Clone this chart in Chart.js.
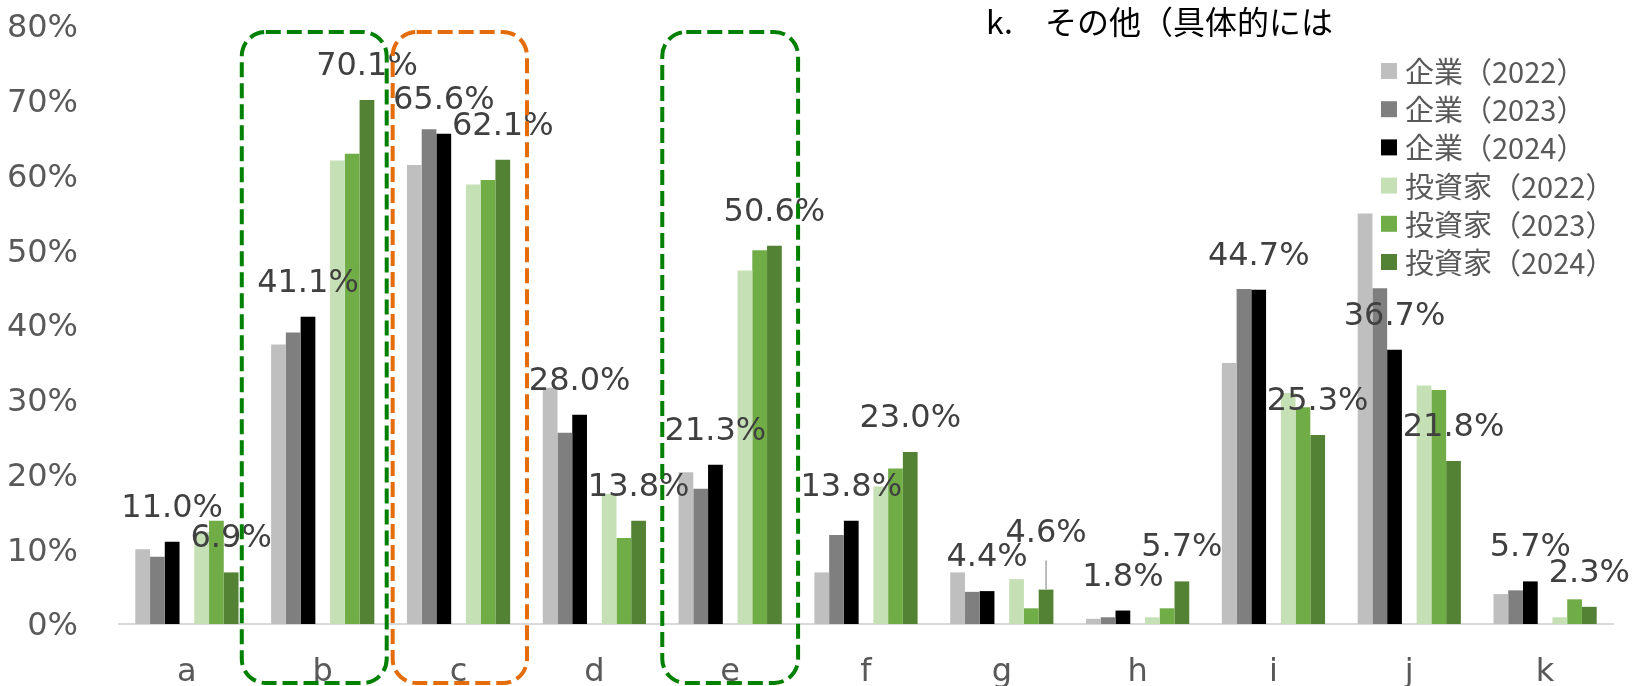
<!DOCTYPE html>
<html>
<head>
<meta charset="utf-8">
<script src="https://cdn.jsdelivr.net/npm/chart.js@4.4.1/dist/chart.umd.min.js"></script>
<style>
  html, body { margin: 0; padding: 0; background: #ffffff; }
  #wrap { width: 1638px; height: 686px; position: relative; }
</style>
</head>
<body>
<div id="wrap"><canvas id="chart"></canvas></div>
<script>
// categories and series (values in %)
const categories = ['a', 'b', 'c', 'd', 'e', 'f', 'g', 'h', 'i', 'j', 'k'];
const seriesNames = ['企業（2022）', '企業（2023）', '企業（2024）', '投資家（2022）', '投資家（2023）', '投資家（2024）'];

const corp2022 = [10.0, 37.4, 61.4, 31.6, 20.3, 6.9, 6.9, 0.7, 34.9, 54.9, 4.0];
const corp2023 = [9.0, 39.0, 66.2, 25.6, 18.1, 11.9, 4.3, 0.9, 44.8, 44.9, 4.5];
const corp2024 = [11.0, 41.1, 65.6, 28.0, 21.3, 13.8, 4.4, 1.8, 44.7, 36.7, 5.7];
const inv2022 = [12.3, 62.0, 58.8, 17.4, 47.3, 18.4, 6.0, 0.9, 30.9, 31.9, 0.9];
const inv2023 = [13.8, 62.9, 59.4, 11.5, 50.0, 20.8, 2.1, 2.1, 29.0, 31.3, 3.3];
const inv2024 = [6.9, 70.1, 62.1, 13.8, 50.6, 23.0, 4.6, 5.7, 25.3, 21.8, 2.3];

const yTicks = [0, 10, 20, 30, 40, 50, 60, 70, 80];
const labelledSeries = ['企業（2024）', '投資家（2024）'];
const titleText = 'k.　その他（具体的には';

const seriesColors = ['#bfbfbf', '#7f7f7f', '#000000', '#c5e0b4', '#70ad47', '#548235'];
const tickFont = { family: "'DejaVu Sans', Verdana, sans-serif", size: 32 };

// dashed highlight frames (category, left/right as fraction of category width)
const highlightBoxes = [
    { category: 'b', from: -0.596, to: 0.471, color: '#008000' },
    { category: 'c', from: -0.485, to: 0.504, color: '#e46c0a' },
    { category: 'e', from: -0.500, to: 0.500, color: '#008000' }
];
// labels pushed up with a leader line
const labelLift = { '投資家（2024）': { g: 23 } };

const seriesValues = [corp2022, corp2023, corp2024, inv2022, inv2023, inv2024];
const datasets = [];
seriesValues.forEach(function(vals, i) {
    if (i === 3) {
        // empty slot between 企業 and 投資家
        datasets.push({ label: '', spacer: true, data: categories.map(() => null) });
    }
    datasets.push({
        label: seriesNames[i],
        data: vals,
        backgroundColor: seriesColors[i],
        borderWidth: 0
    });
});

const valueLabels = {
    id: 'valueLabels',
    afterDatasetsDraw: function(chart) {
        const ctx = chart.ctx;
        ctx.save();
        ctx.font = '32px "DejaVu Sans", Verdana, sans-serif';
        ctx.textAlign = 'center';
        ctx.textBaseline = 'alphabetic';
        chart.data.datasets.forEach(function(ds, di) {
            if (!labelledSeries.includes(ds.label)) return;
            chart.getDatasetMeta(di).data.forEach(function(bar, i) {
                const lift = (labelLift[ds.label] && labelLift[ds.label][categories[i]]) || 0;
                const y = bar.y - 25 - lift;
                if (lift) {
                    ctx.strokeStyle = '#a6a6a6';
                    ctx.lineWidth = 1.5;
                    ctx.beginPath();
                    ctx.moveTo(bar.x, bar.y);
                    ctx.lineTo(bar.x, y + 19);
                    ctx.stroke();
                }
                ctx.fillStyle = '#404040';
                ctx.fillText(ds.data[i].toFixed(1) + '%', bar.x, y);
            });
        });
        ctx.restore();
    }
};

const overlay = {
    id: 'overlay',
    afterDraw: function(chart) {
        const ctx = chart.ctx;
        const xs = chart.scales.x;
        const ys = chart.scales.y;
        const catW = xs.width / categories.length;
        ctx.save();

        // dashed frames
        ctx.lineWidth = 4;
        ctx.setLineDash([15, 6]);
        highlightBoxes.forEach(function(b) {
            const cx = xs.getPixelForValue(categories.indexOf(b.category));
            const x0 = cx + b.from * catW;
            const x1 = cx + b.to * catW;
            const y0 = ys.getPixelForValue(79.2);
            const y1 = chart.height - 3;
            ctx.strokeStyle = b.color;
            ctx.beginPath();
            ctx.roundRect(x0, y0, x1 - x0, y1 - y0, 24);
            ctx.stroke();
        });
        ctx.setLineDash([]);

        // legend
        const lx = 1381, ly = 71, step = 38.2;
        ctx.font = '29px "Noto Sans CJK JP", sans-serif';
        ctx.textAlign = 'left';
        ctx.textBaseline = 'middle';
        let row = 0;
        chart.data.datasets.forEach(function(ds) {
            if (ds.spacer) return;
            const y = ly + row * step;
            ctx.fillStyle = ds.backgroundColor;
            ctx.fillRect(lx, y - 8, 16, 16);
            ctx.fillStyle = '#595959';
            ctx.fillText(ds.label, lx + 24, y + 1);
            row++;
        });

        // stray text box at top
        ctx.fillStyle = '#000000';
        ctx.font = '32px "Noto Sans CJK JP", sans-serif';
        ctx.fillText(titleText, 986, 22);
        ctx.restore();
    }
};

const ctx = document.getElementById('chart').getContext('2d');
new Chart(ctx, {
    type: 'bar',
    data: { labels: categories, datasets: datasets },
    options: {
        responsive: true,
        maintainAspectRatio: false,
        animation: false,
        devicePixelRatio: 1,
        layout: { autoPadding: false, padding: { left: 0, right: 25, top: 26, bottom: 0 } },
        datasets: {
            bar: { barPercentage: 1.0, categoryPercentage: 0.76 }
        },
        plugins: {
            legend: { display: false },
            tooltip: { enabled: false }
        },
        scales: {
            x: {
                grid: { display: false },
                border: { display: true, color: '#d9d9d9', width: 2 },
                ticks: { font: tickFont, color: '#595959', padding: 21, maxRotation: 0 },
                afterFit: function(s) { s.height = 62; s.paddingLeft = 0; s.paddingRight = 0; }
            },
            y: {
                min: 0,
                max: 80,
                grid: { display: false },
                border: { display: false },
                afterBuildTicks: function(s) { s.ticks = yTicks.map(v => ({ value: v })); },
                ticks: {
                    font: tickFont,
                    color: '#595959',
                    padding: 33,
                    labelOffset: 3,
                    callback: function(v) { return v + '%'; }
                },
                afterFit: function(s) { s.width = 119; s.paddingTop = 0; s.paddingBottom = 0; }
            }
        }
    },
    plugins: [valueLabels, overlay]
});
</script>
</body>
</html>
